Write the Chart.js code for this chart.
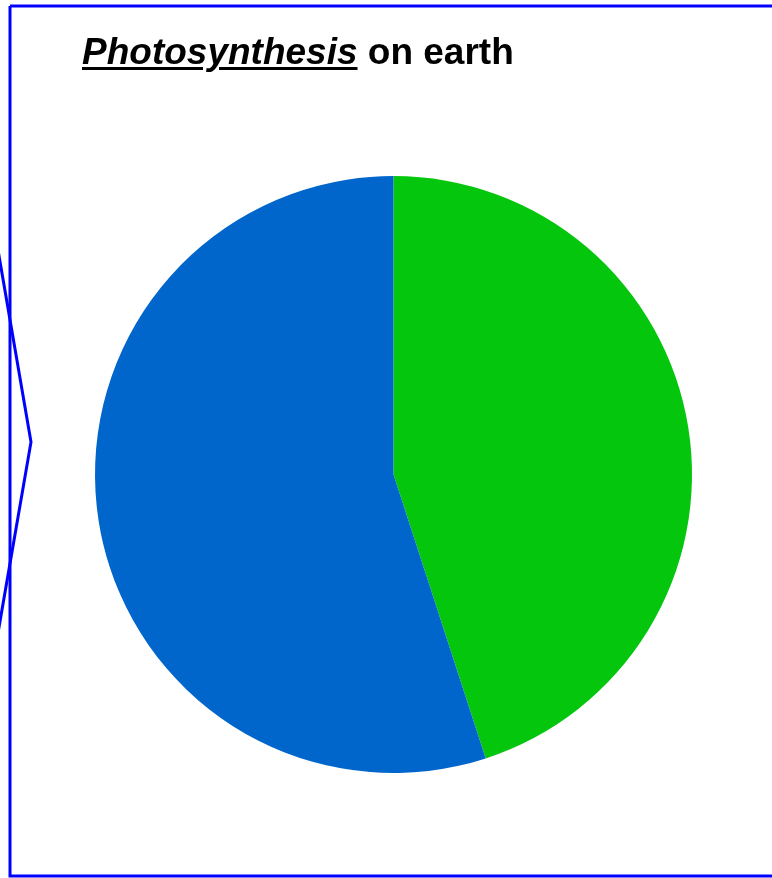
<!DOCTYPE html>
<html>
<head>
<meta charset="utf-8">
<script src="https://cdn.jsdelivr.net/npm/chart.js@4"></script>
<style>
  html, body { margin: 0; padding: 0; background: #fff; }
  #wrap { position: relative; width: 772px; height: 878px; overflow: hidden; }
  #title {
    position: absolute; left: 82px; top: 31px;
    font-family: "Liberation Sans", Arial, sans-serif;
    font-size: 37px; font-weight: bold; color: #000; white-space: nowrap;
  }
  #title u { text-decoration-thickness: 3px; text-underline-offset: 3px; }
</style>
</head>
<body>
<div id="wrap">
  <canvas id="myChart" width="772" height="878"></canvas>
  <div id="title"><u><i>Photosynthesis</i></u> on earth</div>
</div>
<script>
// share of photosynthesis
const labels = ['Ocean', 'Land'];
const shares = [45, 55];
const colors = ['#04C60C', '#0066CC'];

// blue frame with the pointer on the left side
const framePlugin = {
  id: 'frame',
  afterDraw(chart) {
    const c = chart.ctx;
    c.save();
    c.strokeStyle = '#0000FF';
    c.lineWidth = 3;
    c.beginPath();
    c.moveTo(10, 6);
    c.lineTo(790, 6);
    c.moveTo(10, 6);
    c.lineTo(10, 876);
    c.lineTo(790, 876);
    c.stroke();
    c.beginPath();
    c.moveTo(-2, 250);
    c.lineTo(31, 442);
    c.lineTo(-2, 633);
    c.stroke();
    c.restore();
  }
};

new Chart(document.getElementById('myChart'), {
  type: 'pie',
  data: {
    labels: labels,
    datasets: [{
      data: shares,
      backgroundColor: colors,
      borderWidth: 0
    }]
  },
  options: {
    responsive: false,
    animation: false,
    layout: { padding: { left: 95, right: 80, top: 176, bottom: 105 } },
    plugins: {
      legend: { display: false },
      tooltip: { enabled: false }
    }
  },
  plugins: [framePlugin]
});
</script>
</body>
</html>
